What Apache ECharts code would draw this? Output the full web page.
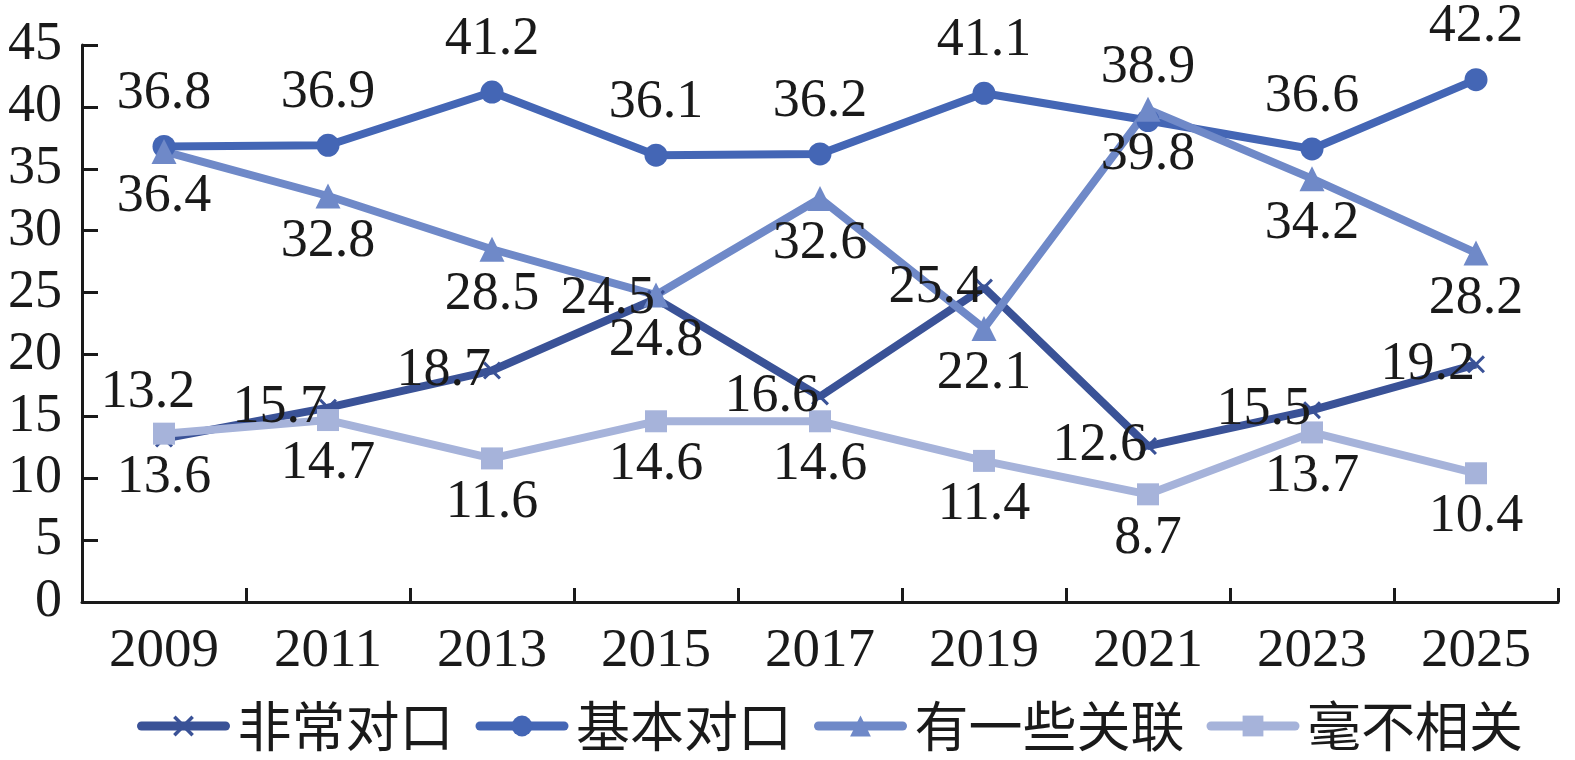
<!DOCTYPE html>
<html>
<head>
<meta charset="utf-8">
<script src="https://cdn.jsdelivr.net/npm/echarts@6/dist/echarts.min.js"></script>
<style>
html,body{margin:0;padding:0;background:#fff;}
#chart{width:1575px;height:760px;}
</style>
</head>
<body>
<div id="chart"></div>
<script>
const years = ['2009','2011','2013','2015','2017','2019','2021','2023','2025'];
const seriesNames = ['非常对口','基本对口','有一些关联','毫不相关'];
const veryMatch = [13.2, 15.7, 18.7, 24.5, 16.6, 25.4, 12.6, 15.5, 19.2];
const basicMatch = [36.8, 36.9, 41.2, 36.1, 36.2, 41.1, 38.9, 36.6, 42.2];
const someRelated = [36.4, 32.8, 28.5, 24.8, 32.6, 22.1, 39.8, 34.2, 28.2];
const unrelated = [13.6, 14.7, 11.6, 14.6, 14.6, 11.4, 8.7, 13.7, 10.4];
const yTicks = [0, 45, 5];

const colors = ['#3A5297', '#4466B5', '#6F89C8', '#A6B3DA'];
const numFont = 'Liberation Serif';
const labelBase = { show: true, fontFamily: numFont, fontSize: 54, color: '#1a1a1a' };

const xPath = 'path://M0,1.2L1.2,0L5,3.8L8.8,0L10,1.2L6.2,5L10,8.8L8.8,10L5,6.2L1.2,10L0,8.8L3.8,5Z';

const chart = echarts.init(document.getElementById('chart'));
chart.setOption({
  animation: false,
  color: colors,
  grid: { left: 82, right: 17, top: 45, bottom: 158, containLabel: false },
  xAxis: {
    type: 'category',
    data: years,
    boundaryGap: true,
    axisLine: { lineStyle: { color: '#1a1a1a', width: 3 } },
    axisTick: { show: true, inside: true, length: 14, lineStyle: { color: '#1a1a1a', width: 3 } },
    axisLabel: { fontFamily: numFont, fontSize: 55, color: '#1a1a1a', margin: 22 },
    splitLine: { show: false }
  },
  yAxis: {
    type: 'value',
    min: yTicks[0], max: yTicks[1], interval: yTicks[2],
    axisLine: { show: true, lineStyle: { color: '#1a1a1a', width: 3 } },
    axisTick: { show: true, inside: true, length: 16, lineStyle: { color: '#1a1a1a', width: 3 } },
    axisLabel: { fontFamily: numFont, fontSize: 54, color: '#1a1a1a', margin: 20 },
    splitLine: { show: false }
  },
  legend: {
    top: 694,
    left: 132,
    itemWidth: 84,
    itemHeight: 26,
    itemGap: 22,
    lineStyle: { width: 9, cap: 'round' },
    textStyle: { fontFamily: 'Noto Sans CJK SC', fontSize: 54, color: '#1a1a1a', padding: [0, 0, 0, 7] },
    data: seriesNames
  },
  series: [
    {
      name: seriesNames[0], type: 'line', data: veryMatch.map((v, i) => i === 0 ? { value: v, label: { position: 'top', offset: [-16, -18] } } : v),
      symbol: xPath, symbolSize: 18,
      lineStyle: { width: 8, color: colors[0] },
      itemStyle: { color: colors[0] },
      label: Object.assign({}, labelBase, { position: 'left', distance: -8 })
    },
    {
      name: seriesNames[1], type: 'line', data: basicMatch,
      symbol: 'circle', symbolSize: 23,
      lineStyle: { width: 8, color: colors[1] },
      itemStyle: { color: colors[1] },
      label: Object.assign({}, labelBase, { position: 'top', distance: 14 })
    },
    {
      name: seriesNames[2], type: 'line', data: someRelated,
      symbol: 'triangle', symbolSize: 25,
      lineStyle: { width: 8, color: colors[2] },
      itemStyle: { color: colors[2] },
      label: Object.assign({}, labelBase, { position: 'bottom', distance: 6 })
    },
    {
      name: seriesNames[3], type: 'line', data: unrelated,
      symbol: 'rect', symbolSize: 22,
      lineStyle: { width: 8, color: colors[3] },
      itemStyle: { color: colors[3] },
      label: Object.assign({}, labelBase, { position: 'bottom', distance: 6 })
    }
  ]
});
</script>
</body>
</html>
